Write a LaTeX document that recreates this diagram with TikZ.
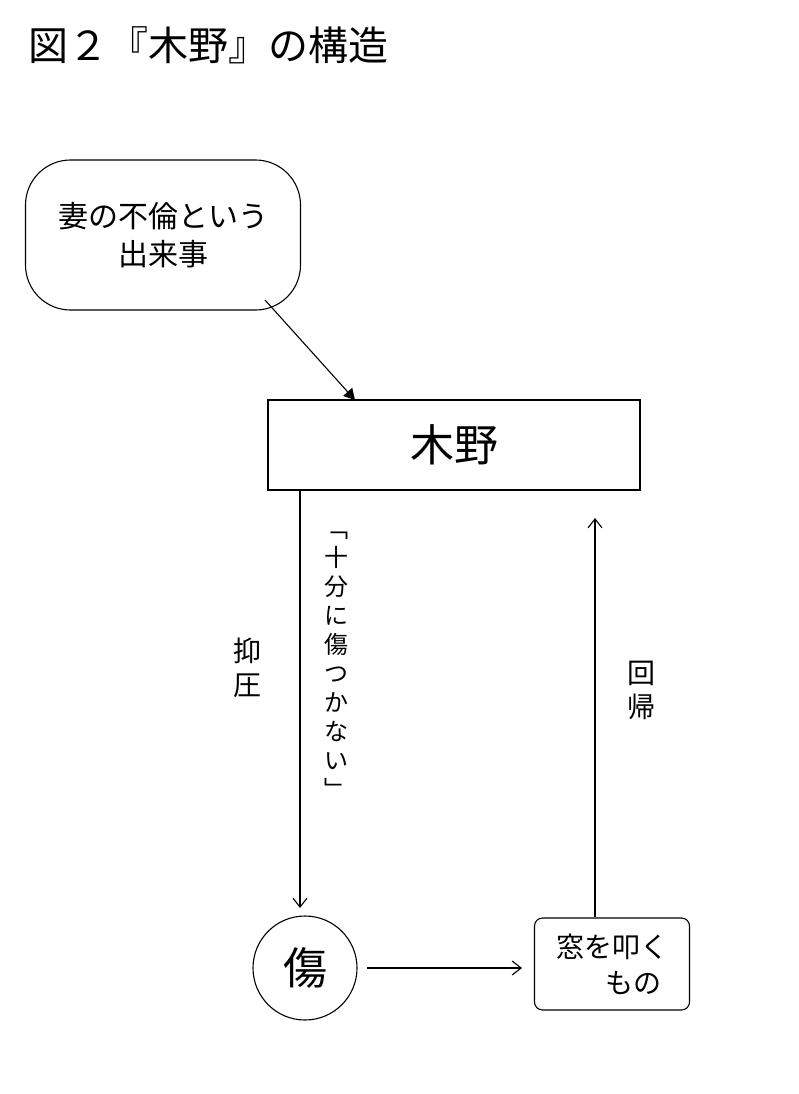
\documentclass[tikz,border=0pt]{standalone}
\usepackage{fontspec}
\setmainfont{Noto Sans CJK JP}
\usetikzlibrary{arrows.meta}
\begin{document}
\begin{tikzpicture}[x=1pt,y=-1pt,
  ln/.style={line width=1.1pt,black},
  arr/.style={ln,-{Straight Barb[length=9pt,width=14pt]}},
  txt/.style={font=\fontsize{30}{38}\selectfont,align=center,inner sep=0pt},
  vt/.style={font=\fontsize{28}{34}\selectfont,align=center,inner sep=0pt}]
\useasboundingbox (0,0) rectangle (798,1094);
\node[inner sep=0pt,anchor=west,font=\fontsize{40}{42}\selectfont] (title) at (28,45) {図２『木野』の構造};
\node[ln,draw,rounded corners=45pt,minimum width=275pt,minimum height=150pt,txt] (event) at (163,235) {妻の不倫という\\出来事};
\node[ln,draw,minimum width=372pt,minimum height=90pt,font=\fontsize{44}{48}\selectfont] (kino) at (454,445) {木野};
\coordinate (evt) at (265,300);
\coordinate (kt) at (355,400);
\draw[ln,-{Triangle[length=11pt,width=12pt]}] (evt) -- (kt);
\node[ln,draw,circle,minimum size=104pt,font=\fontsize{44}{48}\selectfont] (kizu) at (305,968) {傷};
\node[ln,draw,rounded corners=8pt,minimum width=155pt,minimum height=92pt,txt,font=\fontsize{28}{36}\selectfont] (mado) at (612,964) {窓を叩く\\\hspace*{1.5em}もの};
\coordinate (a1) at (300,491);
\coordinate (a2) at (300,908);
\draw[arr] (a1) -- (a2);
\coordinate (b1) at (367,968);
\coordinate (b2) at (522,968);
\draw[arr] (b1) -- (b2);
\coordinate (c1) at (595,917);
\coordinate (c2) at (595,518);
\draw[arr] (c1) -- (c2);
\node[vt] (yokuatsu) at (247,668) {抑\\圧};
\node[vt,font=\fontsize{24}{29}\selectfont] (quote) at (336,665) {﹁\\十\\分\\に\\傷\\つ\\か\\な\\い\\﹂};
\node[vt] (kaiki) at (641,690) {回\\帰};
\end{tikzpicture}
\end{document}
